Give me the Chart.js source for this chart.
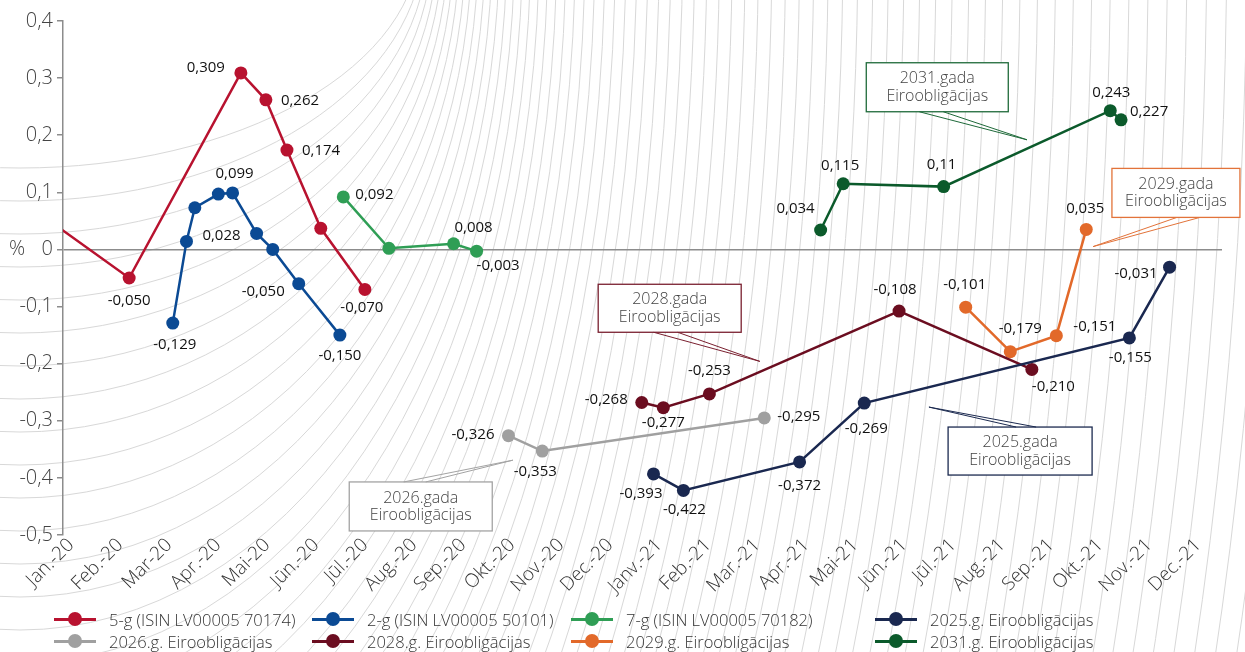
<!DOCTYPE html>
<html>
<head>
<meta charset="utf-8">
<script src="https://cdn.jsdelivr.net/npm/chart.js@4.4.0/dist/chart.umd.min.js"></script>
<style>
  html, body { margin: 0; padding: 0; background: #fff; }
  #wrap { position: relative; width: 1245px; height: 652px; }
  #legend {
    position: absolute; left: 54px; top: 608px;
    display: grid; grid-template-columns: 258px 259px 304px 320px;
    font-family: 'Open Sans'; font-weight: 300; font-size: 16.5px; color: #333;
  }
  .item { display: flex; align-items: center; height: 22px; white-space: nowrap; }
  .sym { position: relative; width: 42px; height: 3px; margin-right: 13px; flex: none; }
  .sym i { position: absolute; left: 14px; top: -5.5px; width: 14px; height: 14px; border-radius: 50%; }
</style>
</head>
<body>
<div id="wrap">
  <canvas id="chart" width="1245" height="652"></canvas>
  <div id="legend"></div>
</div>
<script>
// x values are months counted from 1 Jan 2020 (0 = Jan.-20)
const months = ['Jan.-20', 'Feb.-20', 'Mar-20', 'Apr.-20', 'Mai-20', 'Jūn.-20', 'Jūl.-20', 'Aug.-20',
  'Sep.-20', 'Okt.-20', 'Nov.-20', 'Dec.-20', 'Janv.-21', 'Feb.-21', 'Mar.-21', 'Apr.-21', 'Mai-21',
  'Jūn.-21', 'Jūl.-21', 'Aug.-21', 'Sep.-21', 'Okt.-21', 'Nov.-21', 'Dec.-21']

const names = ['5-g (ISIN LV00005 70174)', '2-g (ISIN LV00005 50101)', '7-g (ISIN LV00005 70182)',
  '2025.g. Eiroobligācijas', '2026.g. Eiroobligācijas', '2028.g. Eiroobligācijas',
  '2029.g. Eiroobligācijas', '2031.g. Eiroobligācijas']
const colors = ['#b8122f', '#0b4a94', '#2f9e55', '#1a2850', '#a0a0a0', '#6b0d20', '#e2692a', '#0b5a2b']

const x5g = [-0.6, 1.35, 3.63, 4.14, 4.57, 5.26, 6.16]
const y5g = [0.070, -0.050, 0.309, 0.262, 0.174, 0.037, -0.070]
const t5g = [null, '-0,050', '0,309', '0,262', '0,174', null, '-0,070']

const x2g = [2.24, 2.52, 2.69, 3.17, 3.46, 3.95, 4.28, 4.81, 5.65]
const y2g = [-0.129, 0.014, 0.073, 0.097, 0.099, 0.028, 0.000, -0.060, -0.150]
const t2g = ['-0,129', null, null, null, '0,099', '0,028', null, '-0,050', '-0,150']

const x7g = [5.72, 6.65, 7.97, 8.44]
const y7g = [0.092, 0.002, 0.010, -0.003]
const t7g = ['0,092', null, '0,008', '-0,003']

const x2025 = [12.05, 12.66, 15.03, 16.35, 21.76, 22.58]
const y2025 = [-0.393, -0.422, -0.372, -0.269, -0.155, -0.031]
const t2025 = ['-0,393', '-0,422', '-0,372', '-0,269', '-0,155', '-0,031']

const x2026 = [9.09, 9.78, 14.31]
const y2026 = [-0.326, -0.353, -0.295]
const t2026 = ['-0,326', '-0,353', '-0,295']

const x2028 = [11.81, 12.25, 13.19, 17.06, 19.77]
const y2028 = [-0.268, -0.277, -0.253, -0.108, -0.210]
const t2028 = ['-0,268', '-0,277', '-0,253', '-0,108', '-0,210']

const x2029 = [18.42, 19.33, 20.27, 20.88]
const y2029 = [-0.101, -0.179, -0.151, 0.035]
const t2029 = ['-0,101', '-0,179', '-0,151', '0,035']

const x2031 = [15.46, 15.92, 17.97, 21.37, 21.59]
const y2031 = [0.034, 0.115, 0.110, 0.243, 0.227]
const t2031 = ['0,034', '0,115', '0,11', '0,243', '0,227']

// label offsets from the point: [dx, dy, align]
const place = [
  [null, [0, 23, 'c'], [-16, -5, 'r'], [15, 1, 'l'], [15, 1, 'l'], null, [-3, 18, 'c']],
  [[2, 22, 'c'], null, null, null, [2, -19, 'c'], [-16, 2, 'r'], null, [-14, 8, 'r'], [0, 21, 'c']],
  [[12, -2, 'l'], null, [20, -16, 'c'], [0, 15, 'l']],
  [[9, 20, 'r'], [1, 19, 'c'], [0, 24, 'c'], [2, 26, 'c'], [1, 20, 'c'], [-12, 7, 'r']],
  [[-14, -1, 'r'], [-7, 21, 'c'], [13, -1, 'l']],
  [[-14, -3, 'r'], [0, 15, 'c'], [0, -23, 'c'], [-4, -21, 'c'], [0, 17, 'l']],
  [[-1, -22, 'c'], [10, -23, 'c'], [17, -9, 'l'], [-1, -21, 'c']],
  [[-6, -21, 'r'], [-3, -18, 'c'], [-2, -22, 'c'], [1, -18, 'c'], [9, -8, 'l']],
]

// callout boxes: text, colour, box centre and pointer tip in data units
const callouts = [
  { text: ['2031.gada', 'Eiroobligācijas'], color: '#1f6a3a', at: [17.84, 0.284], tip: [19.67, 0.192], side: 'bottom', base: [-18, 6], w: 142, h: 49 },
  { text: ['2029.gada', 'Eiroobligācijas'], color: '#e2733a', at: [22.71, 0.099], tip: [21.02, 0.005], side: 'bottom', base: [1, 24], w: 128, h: 49 },
  { text: ['2028.gada', 'Eiroobligācijas'], color: '#7a2030', at: [12.38, -0.103], tip: [14.22, -0.196], side: 'bottom', base: [-16, 8], w: 143, h: 48 },
  { text: ['2026.gada', 'Eiroobligācijas'], color: '#a3a3a3', at: [7.30, -0.450], tip: [9.18, -0.369], side: 'top', base: [-17, 5], w: 143, h: 49 },
  { text: ['2025.gada', 'Eiroobligācijas'], color: '#1c2a50', at: [19.53, -0.353], tip: [17.67, -0.276], side: 'top', base: [-4, 16], w: 144, h: 48 },
]

const xs = [x5g, x2g, x7g, x2025, x2026, x2028, x2029, x2031]
const ys = [y5g, y2g, y7g, y2025, y2026, y2028, y2029, y2031]
const texts = [t5g, t2g, t7g, t2025, t2026, t2028, t2029, t2031]

const datasets = names.map((name, i) => ({
  label: name,
  data: xs[i].map((x, j) => ({ x, y: ys[i][j] })),
  borderColor: colors[i],
  backgroundColor: colors[i],
  pointBackgroundColor: colors[i],
  borderWidth: 2.5,
  pointRadius: 6.5,
  pointBorderWidth: 0,
  tension: 0,
}))

const lightFont = { family: 'Open Sans', weight: 300 }

// faint rings behind the chart
const backdrop = {
  id: 'backdrop',
  beforeDraw(chart) {
    const ctx = chart.ctx
    ctx.save()
    ctx.fillStyle = '#fff'
    ctx.fillRect(0, 0, chart.width, chart.height)
    ctx.strokeStyle = '#d8d8d8'
    ctx.lineWidth = 1
    for (let k = 0; k < 76; k++) {
      ctx.beginPath()
      ctx.ellipse(20, -60, 400 + 4 * k + 0.12 * k * k, 228 + 33 * k, 0, 0, Math.PI * 2)
      ctx.stroke()
    }
    ctx.restore()
  },
}

const valueLabels = {
  id: 'valueLabels',
  afterDatasetsDraw(chart) {
    const ctx = chart.ctx
    ctx.save()
    ctx.font = '15px "Open Sans"'
    ctx.fillStyle = '#111'
    ctx.textBaseline = 'middle'
    chart.data.datasets.forEach((ds, i) => {
      const meta = chart.getDatasetMeta(i)
      texts[i].forEach((txt, j) => {
        if (!txt) return
        const [dx, dy, al] = place[i][j]
        const p = meta.data[j]
        ctx.textAlign = al === 'l' ? 'left' : al === 'r' ? 'right' : 'center'
        ctx.fillText(txt, p.x + dx, p.y + dy)
      })
    })
    ctx.restore()
  },
}

const calloutBoxes = {
  id: 'calloutBoxes',
  afterDatasetsDraw(chart) {
    const { ctx, scales: { x, y } } = chart
    ctx.save()
    for (const c of callouts) {
      const cx = x.getPixelForValue(c.at[0])
      const cy = y.getPixelForValue(c.at[1])
      const tx = x.getPixelForValue(c.tip[0])
      const ty = y.getPixelForValue(c.tip[1])
      const edge = c.side === 'bottom' ? cy + c.h / 2 : cy - c.h / 2
      ctx.fillStyle = '#fff'
      ctx.fillRect(cx - c.w / 2, cy - c.h / 2, c.w, c.h)
      ctx.strokeStyle = c.color
      ctx.lineWidth = 1.3
      ctx.strokeRect(cx - c.w / 2, cy - c.h / 2, c.w, c.h)
      ctx.lineWidth = 1
      ctx.beginPath()
      ctx.moveTo(cx + c.base[0], edge)
      ctx.lineTo(tx, ty)
      ctx.lineTo(cx + c.base[1], edge)
      ctx.stroke()
      ctx.fillStyle = '#444'
      ctx.font = '300 16px "Open Sans"'
      ctx.textAlign = 'center'
      ctx.textBaseline = 'middle'
      ctx.fillText(c.text[0], cx, cy - 8.5)
      ctx.fillText(c.text[1], cx, cy + 9)
    }
    ctx.restore()
  },
}

const percentSign = {
  id: 'percentSign',
  afterDraw(chart) {
    const ctx = chart.ctx
    ctx.save()
    ctx.font = '300 20px "Open Sans"'
    ctx.fillStyle = '#444'
    ctx.textAlign = 'center'
    ctx.textBaseline = 'middle'
    ctx.fillText('%', 17, chart.scales.y.getPixelForValue(0))
    ctx.restore()
  },
}

const chart = new Chart(document.getElementById('chart'), {
  type: 'line',
  data: { datasets },
  options: {
    responsive: false,
    animation: false,
    devicePixelRatio: 1,
    events: [],
    layout: { padding: { top: 21, right: 23, left: 0, bottom: 0 } },
    plugins: { legend: { display: false }, tooltip: { enabled: false } },
    scales: {
      x: {
        type: 'linear',
        min: 0,
        max: 23.65,
        border: { display: false },
        grid: { display: false },
        ticks: {
          stepSize: 1,
          autoSkip: false,
          includeBounds: false,
          minRotation: 45,
          maxRotation: 45,
          padding: -9,
          labelOffset: 8,
          color: '#333',
          font: { ...lightFont, size: 19 },
          callback: (v) => months[Math.round(v)] ?? '',
        },
        afterFit: (s) => { s.height = 117 },
      },
      y: {
        min: -0.5,
        max: 0.4,
        border: { color: '#8c8c8c', width: 1.5 },
        grid: {
          color: (c) => (Math.abs(c.tick.value) < 1e-9 ? '#8c8c8c' : 'rgba(0,0,0,0)'),
          lineWidth: 1.5,
          tickColor: '#8c8c8c',
          tickLength: 6,
        },
        ticks: {
          stepSize: 0.1,
          padding: 4,
          color: '#444',
          font: { ...lightFont, size: 20 },
          callback: (v) => {
            const r = Math.round(v * 10) / 10
            return r === 0 ? '0' : r.toFixed(1).replace('.', ',')
          },
        },
        afterFit: (s) => { s.width = 63 },
      },
    },
  },
  plugins: [backdrop, valueLabels, calloutBoxes, percentSign],
})

const legend = document.getElementById('legend')
chart.data.datasets.forEach((ds) => {
  const item = document.createElement('div')
  item.className = 'item'
  item.innerHTML = `<span class="sym" style="background:${ds.borderColor}"><i style="background:${ds.borderColor}"></i></span><span>${ds.label}</span>`
  legend.appendChild(item)
})
</script>
</body>
</html>
